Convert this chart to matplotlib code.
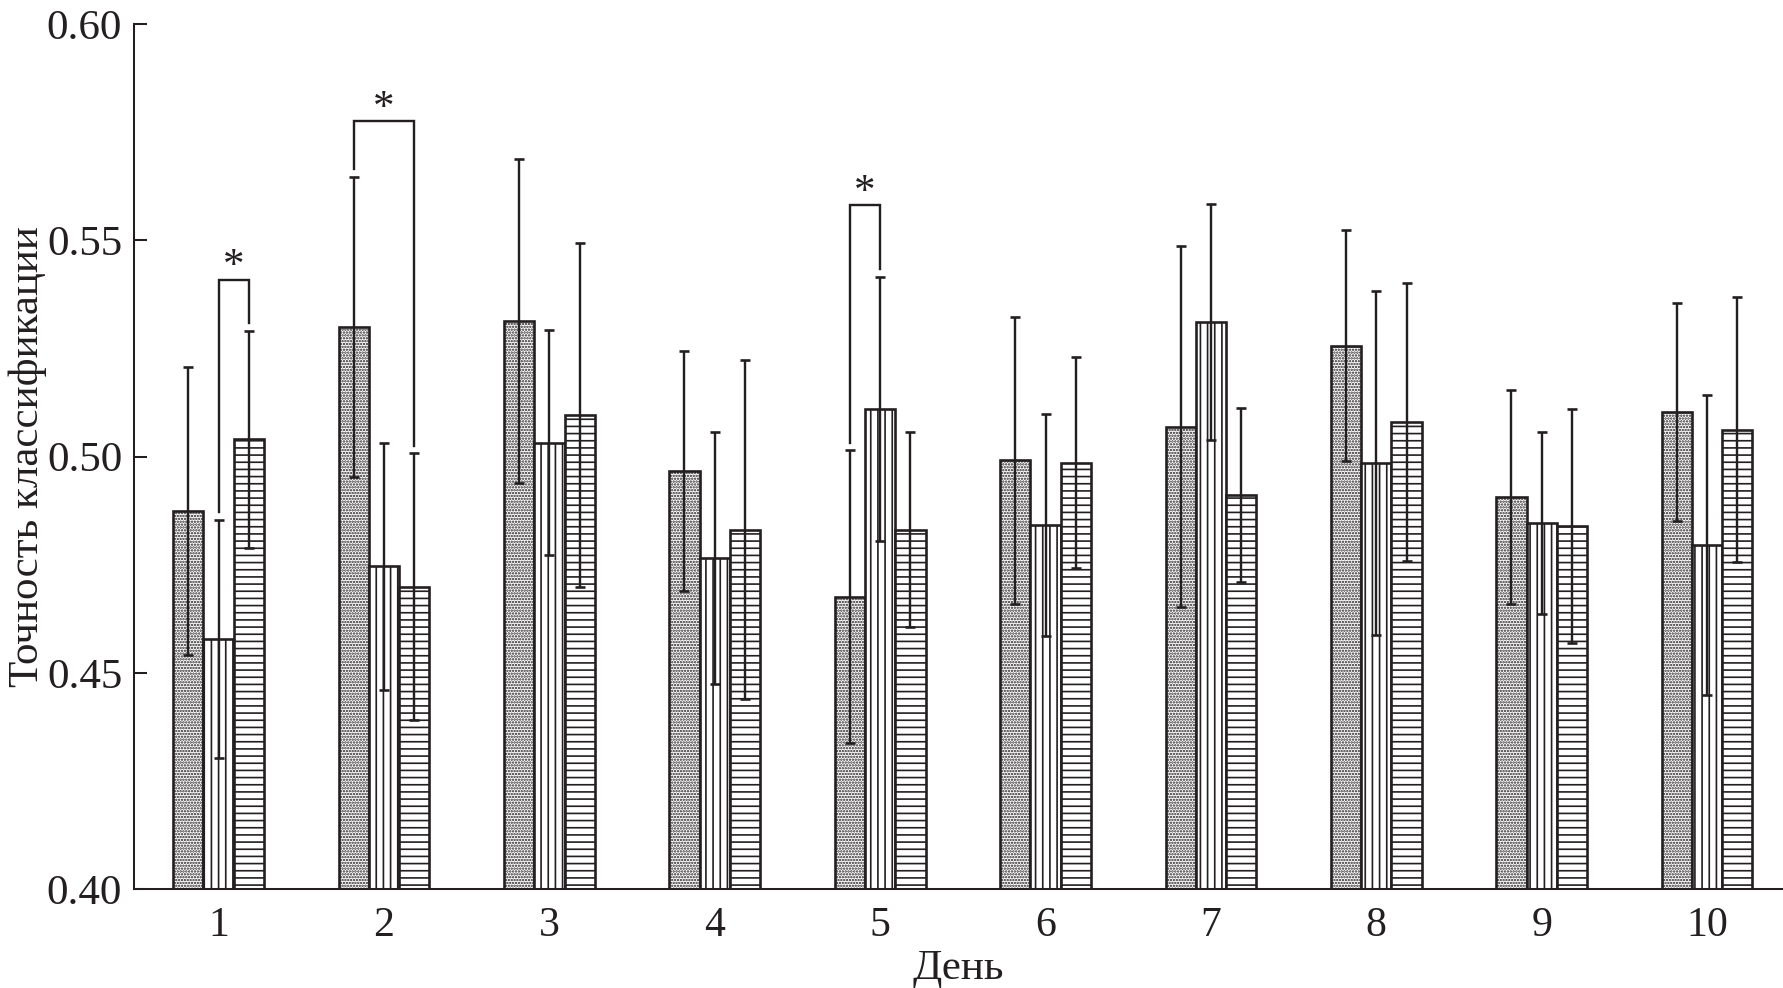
import numpy as np
import matplotlib
matplotlib.use("Agg")
import matplotlib.pyplot as plt

# data
days = [1, 2, 3, 4, 5, 6, 7, 8, 9, 10]
group_a = [0.4875, 0.5300, 0.5313, 0.4966, 0.4676, 0.4991, 0.5069, 0.5256, 0.4906, 0.5103]
group_a_err = [0.0333, 0.0347, 0.0374, 0.0278, 0.0338, 0.0332, 0.0418, 0.0267, 0.0247, 0.0252]
group_b = [0.4578, 0.4746, 0.5032, 0.4766, 0.5110, 0.4842, 0.5311, 0.4985, 0.4847, 0.4795]
group_b_err = [0.0275, 0.0285, 0.0260, 0.0291, 0.0306, 0.0257, 0.0272, 0.0398, 0.0210, 0.0347]
group_c = [0.5040, 0.4699, 0.5096, 0.4831, 0.4831, 0.4986, 0.4911, 0.5080, 0.4839, 0.5062]
group_c_err = [0.0251, 0.0308, 0.0398, 0.0392, 0.0225, 0.0243, 0.0201, 0.0322, 0.0271, 0.0307]

# significance brackets: day index, the two groups compared, bracket height
sig_day = [0, 1, 4]
sig_from = [1, 0, 0]
sig_to = [2, 2, 1]
sig_top = [0.5409, 0.5776, 0.5582]

y_ticks = [0.40, 0.45, 0.50, 0.55, 0.60]

ink = "#231f20"
plt.rcParams["font.family"] = ["Liberation Serif", "DejaVu Serif"]
plt.rcParams["hatch.linewidth"] = 1.4
plt.rcParams["hatch.color"] = ink

DPI = 86
fig = plt.figure(figsize=(1783 / DPI, 988 / DPI), dpi=DPI)
ax = fig.add_axes([0.0752, 0.1002, 0.9248, 0.8755])

x = np.array(days, dtype=float)
w = 0.183
offsets = [-w, 0.0, w]
means = [group_a, group_b, group_c]
errs = [group_a_err, group_b_err, group_c_err]
hatches = [".....", "||", "--"]
hatch_lw = [1.35, 1.4, 1.4]

for off, m, e, h, hl in zip(offsets, means, errs, hatches, hatch_lw):
    bars = ax.bar(x + off, m, width=w, color="white", edgecolor=ink, linewidth=2.2,
                  hatch=h, zorder=2)
    for b in bars:
        if hasattr(b, "set_hatch_linewidth"):
            b.set_hatch_linewidth(hl)
    ax.errorbar(x + off, m, yerr=e, fmt="none", ecolor=ink, elinewidth=2.0,
                capsize=4.5, capthick=2.2, zorder=3)

gap = 0.0018
for d, g1, g2, top in zip(sig_day, sig_from, sig_to, sig_top):
    x1 = x[d] + offsets[g1]
    x2 = x[d] + offsets[g2]
    y1 = means[g1][d] + errs[g1][d] + gap
    y2 = means[g2][d] + errs[g2][d] + gap
    ax.plot([x1, x1, x2, x2], [y1, top, top, y2], color=ink, lw=2.0, zorder=4,
            solid_joinstyle="miter")
    ax.text((x1 + x2) / 2, top + 0.0005, "*", ha="center", va="baseline",
            fontsize=36, color=ink)

ax.set_xlim(0.489, 10.459)
ax.set_ylim(0.40, 0.60)
ax.set_xticks(days)
ax.set_xticklabels([str(d) for d in days])
ax.set_yticks(y_ticks)
ax.set_yticklabels([f"{t:.2f}" for t in y_ticks])

for s in ["top", "right"]:
    ax.spines[s].set_visible(False)
for s in ["left", "bottom"]:
    ax.spines[s].set_linewidth(1.7)
    ax.spines[s].set_color(ink)

ax.tick_params(axis="y", direction="in", length=11, width=1.7, colors=ink,
               labelsize=36, pad=10)
ax.tick_params(axis="x", length=0, colors=ink, labelsize=35, pad=15)

ax.set_xlabel("День", fontsize=36, color=ink, labelpad=3)
ax.set_ylabel("Точность классификации", fontsize=36, color=ink, labelpad=0)

fig.savefig("out.png", dpi=DPI)
